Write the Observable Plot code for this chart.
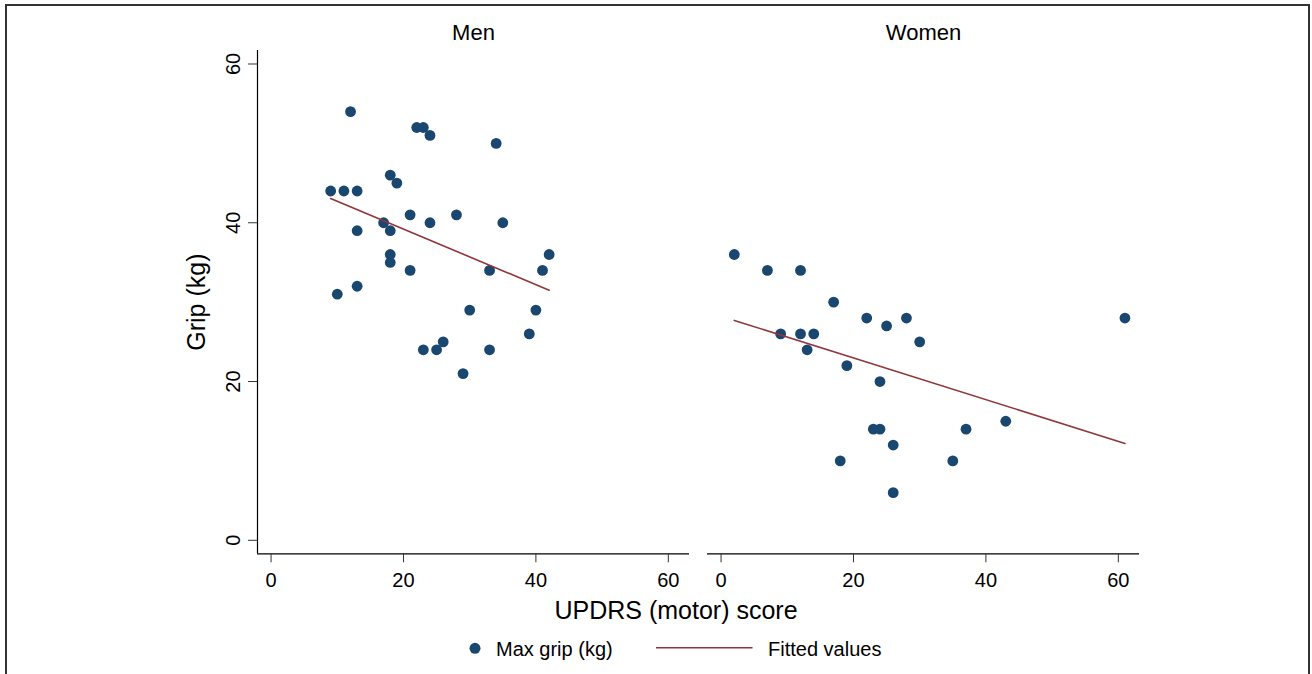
<!DOCTYPE html>
<html>
<head>
<meta charset="utf-8">
<script src="https://cdn.jsdelivr.net/npm/d3@7"></script>
<script src="https://cdn.jsdelivr.net/npm/@observablehq/plot@0.6"></script>
<style>
html,body{margin:0;padding:0;background:#fff;}
body{width:1312px;height:674px;position:relative;overflow:hidden;font-family:"Liberation Sans",Arial,Helvetica,sans-serif;}
#frame{position:absolute;left:5px;top:4px;width:1305px;height:700px;border:2px solid #333;box-sizing:border-box;}
#chart{position:absolute;left:0;top:0;}
#xtitle{position:absolute;left:476px;width:400px;top:598px;text-align:center;font-size:25px;line-height:25px;color:#000;white-space:nowrap;}
#legend{position:absolute;left:0;top:630px;}
</style>
</head>
<body>
<div id="frame"></div>
<div id="chart"></div>
<div id="xtitle">UPDRS (motor) score</div>
<div id="legend"></div>
<script>
// ---- data ----
const panels = ["Men", "Women"];

const menUpdrs = [12, 22, 23, 24, 34, 18, 19, 9, 11, 13, 21, 28, 17, 24, 35, 13, 18, 18, 42, 18, 21, 33, 41, 13, 10, 30, 40, 39, 26, 23, 25, 33, 29];
const menGrip  = [54, 52, 52, 51, 50, 46, 45, 44, 44, 44, 41, 41, 40, 40, 40, 39, 39, 36, 36, 35, 34, 34, 34, 32, 31, 29, 29, 26, 25, 24, 24, 24, 21];

const womenUpdrs = [2, 7, 12, 17, 22, 25, 28, 30, 9, 12, 14, 13, 19, 24, 23, 24, 26, 18, 35, 37, 26, 61, 43];
const womenGrip  = [36, 34, 34, 30, 28, 27, 28, 25, 26, 26, 26, 24, 22, 20, 14, 14, 12, 10, 10, 14, 6, 28, 15];

// fitted values (line endpoints)
const menFitUpdrs = [9, 42];
const menFitGrip = [43.05, 31.5];
const womenFitUpdrs = [2, 61];
const womenFitGrip = [27.7, 12.2];

const xTicks = [0, 20, 40, 60];
const yTicks = [0, 20, 40, 60];
const xDomain = [-2.05, 63.2];
const yDomain = [-1.7, 61.7];

const legendLabels = ["Max grip (kg)", "Fitted values"];
const yTitle = "Grip (kg)";

const dotColor = "#1a476f";
const fitColor = "#90353b";
const font = "'Liberation Sans', Arial, Helvetica, sans-serif";

// ---- tables ----
const points = [
  ...menUpdrs.map((u, i) => ({sex: "Men", updrs: u, grip: menGrip[i]})),
  ...womenUpdrs.map((u, i) => ({sex: "Women", updrs: u, grip: womenGrip[i]}))
];
const fits = [
  ...menFitUpdrs.map((u, i) => ({sex: "Men", updrs: u, grip: menFitGrip[i]})),
  ...womenFitUpdrs.map((u, i) => ({sex: "Women", updrs: u, grip: womenFitGrip[i]}))
];

const W = 1312, H = 630;
const chart = Plot.plot({
  width: W,
  height: H,
  marginTop: 50,
  marginBottom: H - 553.3,
  marginLeft: 256,
  marginRight: W - 1140,
  style: {fontFamily: font, fontSize: "20px", background: "transparent", color: "#000"},
  fx: {domain: panels, paddingInner: 0.0392, paddingOuter: 0, axis: null},
  x: {domain: xDomain},
  y: {domain: yDomain},
  marks: [
    // axis lines
    Plot.ruleY([yDomain[0]], {x1: xDomain[0], x2: xDomain[1], stroke: "#000", strokeWidth: 1.2}),
    Plot.ruleX([xDomain[0]], {fx: () => "Men", y1: yDomain[0], y2: yDomain[1], stroke: "#000", strokeWidth: 1.2}),
    Plot.axisX({ticks: xTicks, tickSize: 9, tickPadding: 9.5, fontSize: 20, label: null, stroke: "#333"}),
    Plot.axisY({ticks: yTicks, tickSize: 9, tickPadding: 9, tickRotate: -90, textAnchor: "middle", lineAnchor: "bottom", fontSize: 20, label: null, stroke: "#333"}),
    // y title
    Plot.text([yTitle], {fx: () => "Men", frameAnchor: "left", text: d => d, rotate: -90, dx: -52.5, textAnchor: "middle", lineAnchor: "bottom", fontSize: 25}),
    // panel titles
    Plot.text(panels, {fx: d => d, text: d => d, frameAnchor: "top", dy: -10.7, lineAnchor: "bottom", fontSize: 22}),
    // data
    Plot.dot(points, {x: "updrs", y: "grip", fx: "sex", r: 5.4, fill: dotColor, stroke: "none"}),
    Plot.line(fits, {x: "updrs", y: "grip", fx: "sex", z: "sex", stroke: fitColor, strokeWidth: 1.6})
  ]
});
document.getElementById("chart").appendChild(chart);

// ---- legend ----
const lg = d3.select("#legend").append("svg").attr("width", W).attr("height", 44)
  .style("font-family", font).style("font-size", "20px");
lg.append("circle").attr("cx", 475).attr("cy", 18.3).attr("r", 5.5).attr("fill", dotColor);
lg.append("text").attr("x", 496).attr("y", 26).text(legendLabels[0]);
lg.append("line").attr("x1", 656).attr("x2", 752.5).attr("y1", 17.8).attr("y2", 17.8)
  .attr("stroke", fitColor).attr("stroke-width", 1.6);
lg.append("text").attr("x", 768).attr("y", 26).text(legendLabels[1]);
</script>
</body>
</html>
